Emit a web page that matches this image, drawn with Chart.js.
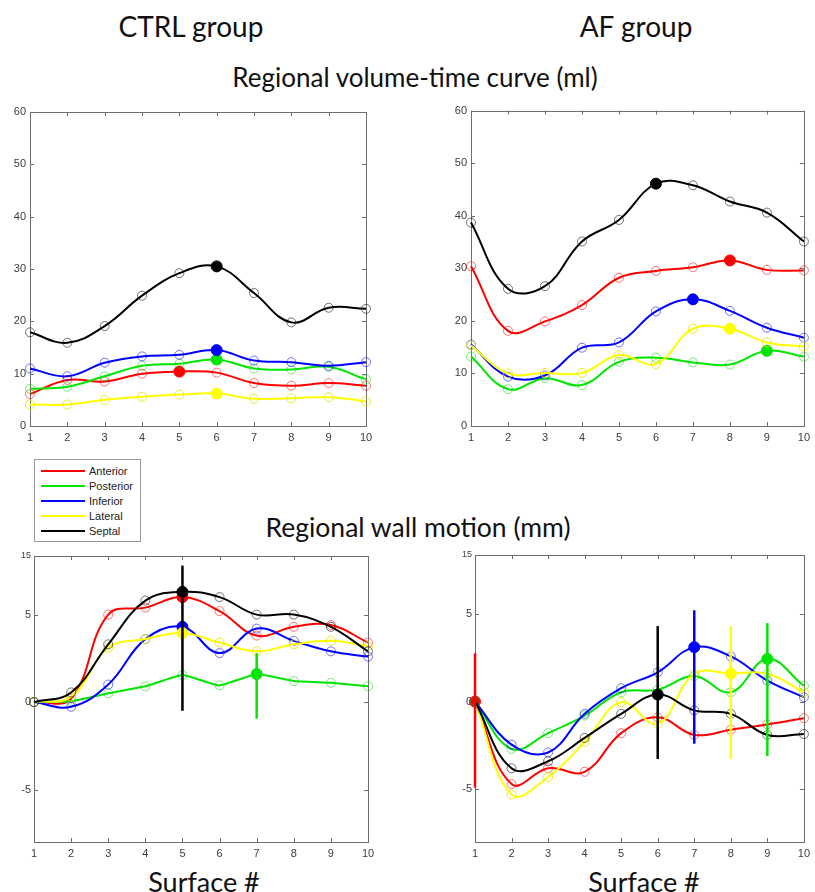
<!DOCTYPE html>
<html lang="en">
<head>
<meta charset="UTF-8">
<title>Regional volume and wall motion</title>
<script src="https://cdn.jsdelivr.net/npm/chart.js"></script>
<style>
    body {
        margin: 0;
        background: #fff;
        font-family: Lato, "Open Sans", sans-serif;
    }
    #page {
        position: relative;
        width: 815px;
        height: 892px;
        overflow: hidden;
        background: #fff;
    }
    .title {
        position: absolute;
        width: 400px;
        text-align: center;
        color: #111;
        white-space: nowrap;
        line-height: 30px;
    }
    .panel {
        position: absolute;
    }
    #legend {
        position: absolute;
        left: 34px;
        top: 459px;
        width: 105px;
        height: 81px;
        border: 1px solid #9a9a9a;
        background: #fff;
        font-family: "Liberation Sans", Arial, sans-serif;
        font-size: 11px;
        color: #222;
    }
    #legend .row {
        position: absolute;
        left: 6px;
        height: 14px;
        line-height: 14px;
    }
    #legend .swatch {
        position: absolute;
        left: 0;
        top: 6px;
        width: 44px;
        height: 2px;
    }
    #legend .lbl {
        position: absolute;
        left: 48px;
        top: 0;
    }
</style>
</head>
<body>
<div id="page">
    <div class="title" style="left:-9px; top:11px; font-size:28px;">CTRL group</div>
    <div class="title" style="left:436px; top:11px; font-size:28px;">AF group</div>
    <div class="title" style="left:215px; top:62px; font-size:26px;">Regional volume-time curve (ml)</div>
    <div class="title" style="left:218px; top:512px; font-size:26.5px;">Regional wall motion (mm)</div>

    <div class="panel" style="left:0; top:100px;"><canvas id="ctrlVol" width="400" height="350"></canvas></div>
    <div class="panel" style="left:410px; top:100px;"><canvas id="afVol" width="405" height="350"></canvas></div>
    <div class="panel" style="left:0; top:545px;"><canvas id="ctrlMot" width="400" height="320"></canvas></div>
    <div class="panel" style="left:410px; top:545px;"><canvas id="afMot" width="405" height="320"></canvas></div>

    <div id="legend"></div>

    <div class="title" style="left:4px; top:867px; font-size:27px;">Surface #</div>
    <div class="title" style="left:444px; top:867px; font-size:27px;">Surface #</div>
</div>

<script>
// x categories (surface number)
const surfaces = [1, 2, 3, 4, 5, 6, 7, 8, 9, 10];
const regions = ["Anterior", "Posterior", "Inferior", "Lateral", "Septal"];

// CTRL group - regional volume (ml)
const ctrlVolAnterior  = [6.1, 8.8, 8.5, 10.0, 10.4, 10.2, 8.2, 7.7, 8.2, 7.7];
const ctrlVolPosterior = [7.1, 7.5, 9.5, 11.5, 11.9, 12.7, 11.0, 10.8, 11.3, 8.9];
const ctrlVolInferior  = [11.0, 9.5, 12.1, 13.3, 13.6, 14.5, 12.5, 12.2, 11.5, 12.2];
const ctrlVolLateral   = [4.1, 4.1, 5.0, 5.6, 6.0, 6.2, 5.2, 5.3, 5.5, 4.7];
const ctrlVolSeptal    = [17.9, 15.9, 19.1, 24.9, 29.2, 30.5, 25.4, 19.8, 22.6, 22.4];
const ctrlVolPeak      = [5, 6, 6, 6, 6];   // surface # of the filled marker

// AF group - regional volume (ml)
const afVolAnterior  = [30.4, 18.1, 19.9, 23.0, 28.2, 29.5, 30.2, 31.5, 29.7, 29.6];
const afVolPosterior = [13.2, 7.0, 9.1, 7.8, 12.2, 13.0, 12.1, 11.7, 14.3, 13.2];
const afVolInferior  = [15.5, 9.4, 9.6, 14.9, 15.9, 21.8, 24.1, 21.9, 18.7, 16.8];
const afVolLateral   = [15.3, 10.0, 10.1, 10.1, 13.5, 11.8, 18.5, 18.5, 15.9, 15.1];
const afVolSeptal    = [38.7, 26.1, 26.6, 35.1, 39.2, 46.1, 45.8, 42.7, 40.6, 35.1];
const afVolPeak      = [8, 9, 7, 8, 6];

// CTRL group - regional wall motion (mm)
const ctrlMotAnterior  = [0, 0.2, 5.0, 5.4, 6.0, 5.2, 3.8, 4.3, 4.4, 3.4];
const ctrlMotPosterior = [0, 0.05, 0.5, 0.9, 1.55, 0.95, 1.6, 1.2, 1.1, 0.9];
const ctrlMotInferior  = [0, -0.27, 1.0, 3.6, 4.3, 2.8, 4.2, 3.5, 2.9, 2.6];
const ctrlMotLateral   = [0, 0.3, 3.1, 3.6, 3.95, 3.4, 2.9, 3.3, 3.5, 3.2];
const ctrlMotSeptal    = [0, 0.55, 3.3, 5.8, 6.3, 6.0, 5.0, 5.0, 4.3, 2.9];
const ctrlMotPeak      = [5, 7, 5, 5, 5];
const ctrlMotErrLow    = [null, -0.95, null, null, -0.5];
const ctrlMotErrHigh   = [null, 2.8, null, null, 7.8];

// AF group - regional wall motion (mm)
const afMotAnterior  = [0, -4.7, -3.8, -4.0, -1.8, -0.9, -1.9, -1.6, -1.3, -0.95];
const afMotPosterior = [0, -2.7, -1.8, -0.8, 0.53, 0.68, 1.45, 0.53, 2.43, 0.9];
const afMotInferior  = [0, -2.45, -2.9, -0.7, 0.76, 1.67, 3.1, 2.57, 1.2, 0.25];
const afMotLateral   = [0, -5.3, -4.3, -2.3, -0.04, -1.27, 1.58, 1.6, 1.58, 0.53];
const afMotSeptal    = [0, -3.8, -3.4, -2.07, -0.7, 0.4, -0.5, -0.7, -1.9, -1.85];
const afMotPeak      = [1, 9, 7, 8, 6];
const afMotErrLow    = [-4.9, -3.1, -2.4, -3.27, -3.27];
const afMotErrHigh   = [2.75, 4.47, 5.2, 4.3, 4.3];

// axis ticks
const volTicks = [0, 10, 20, 30, 40, 50, 60];
const motTicks = [-5, 0, 5, 8.35];
const motTickLabels = ["-5", "0", "5", "15"];

const colors = ["#ff0000", "#00e600", "#0000ff", "#ffff00", "#000000"];
const markerColors = ["rgba(255,0,0,0.55)", "rgba(0,220,0,0.55)", "rgba(0,0,255,0.55)", "rgba(230,230,0,0.8)", "rgba(0,0,0,0.55)"];

// legend
const legendEl = document.getElementById("legend");
regions.forEach((r, i) => {
    const row = document.createElement("div");
    row.className = "row";
    row.style.top = (4 + i * 15) + "px";
    row.innerHTML = `<span class="swatch" style="background:${colors[i]}"></span><span class="lbl">${r}</span>`;
    legendEl.appendChild(row);
});

// MATLAB-like box with inward ticks, drawn under the data
const boxPlugin = {
    id: "box",
    beforeDatasetsDraw(chart) {
        const ctx = chart.ctx;
        const a = chart.chartArea;
        const xs = chart.scales.x, ys = chart.scales.y;
        ctx.save();
        ctx.strokeStyle = "#6e6e6e";
        ctx.lineWidth = 1;
        ctx.strokeRect(Math.round(a.left) + 0.5, Math.round(a.top) + 0.5,
            Math.round(a.right - a.left), Math.round(a.bottom - a.top));
        ctx.beginPath();
        xs.ticks.forEach(t => {
            const px = Math.round(xs.getPixelForValue(t.value)) + 0.5;
            ctx.moveTo(px, a.bottom); ctx.lineTo(px, a.bottom - 4);
            ctx.moveTo(px, a.top); ctx.lineTo(px, a.top + 4);
        });
        ys.ticks.forEach(t => {
            const py = Math.round(ys.getPixelForValue(t.value)) + 0.5;
            ctx.moveTo(a.left, py); ctx.lineTo(a.left + 4, py);
            ctx.moveTo(a.right, py); ctx.lineTo(a.right - 4, py);
        });
        ctx.stroke();
        ctx.restore();
    }
};

function makeChart(id, series, peaks, yCfg, pad, errLow, errHigh, tensions) {
    const datasets = [];
    series.forEach((vals, i) => {
        datasets.push({
            label: regions[i],
            data: vals.map((v, k) => ({ x: surfaces[k], y: v })),
            borderColor: colors[i],
            borderWidth: 2,
            tension: tensions ? tensions[i] : 0.4,
            fill: false,
            clip: 6,
            pointStyle: "circle",
            pointRadius: ctx => surfaces[ctx.dataIndex] === peaks[i] ? 5.5 : 4.5,
            pointBorderWidth: 1,
            pointBorderColor: ctx => surfaces[ctx.dataIndex] === peaks[i] ? colors[i] : markerColors[i],
            pointBackgroundColor: ctx => surfaces[ctx.dataIndex] === peaks[i] ? colors[i] : "rgba(0,0,0,0)",
            order: 10 - i
        });
    });
    if (errLow) {
        series.forEach((vals, i) => {
            if (errLow[i] === null) return;
            datasets.push({
                label: regions[i] + " error",
                data: [{ x: peaks[i], y: errLow[i] }, { x: peaks[i], y: errHigh[i] }],
                borderColor: colors[i],
                borderWidth: 2.5,
                pointRadius: 0,
                tension: 0,
                clip: false,
                order: 0
            });
        });
    }
    return new Chart(document.getElementById(id), {
        type: "line",
        data: { datasets },
        options: {
            responsive: false,
            animation: false,
            layout: { padding: pad },
            plugins: { legend: { display: false }, tooltip: { enabled: false } },
            scales: {
                x: {
                    type: "linear",
                    min: 1, max: 10,
                    grid: { display: false, drawTicks: false },
                    border: { display: false },
                    afterBuildTicks: s => { s.ticks = surfaces.map(v => ({ value: v })); },
                    afterFit: s => { s.height = 20; },
                    ticks: {
                        padding: 5,
                        autoSkip: false,
                        maxRotation: 0,
                        color: "#3c3c3c",
                        font: { family: "Liberation Sans", size: 11 },
                        callback: v => String(v)
                    }
                },
                y: Object.assign({
                    type: "linear",
                    grid: { display: false, drawTicks: false },
                    border: { display: false },
                    afterFit: s => { s.width = 28; },
                    ticks: {
                        padding: 4,
                        color: "#3c3c3c",
                        font: { family: "Liberation Sans", size: 11 }
                    }
                }, yCfg)
            }
        },
        plugins: [boxPlugin]
    });
}

const volY = {
    min: 0, max: 60,
    afterBuildTicks: s => { s.ticks = volTicks.map(v => ({ value: v })); }
};
const motY = {
    min: -8, max: 8.35,
    afterBuildTicks: s => { s.ticks = motTicks.map(v => ({ value: v })); },
    ticks: {
        padding: 3,
        color: "#3c3c3c",
        font: ctx => ({ family: "Liberation Sans", size: ctx.tick && ctx.tick.value === 8.35 ? 9 : 11 }),
        callback: v => motTickLabels[motTicks.indexOf(v)]
    }
};

makeChart("ctrlVol",
    [ctrlVolAnterior, ctrlVolPosterior, ctrlVolInferior, ctrlVolLateral, ctrlVolSeptal],
    ctrlVolPeak, volY, { left: 2, right: 34, top: 12, bottom: 4 });
makeChart("afVol",
    [afVolAnterior, afVolPosterior, afVolInferior, afVolLateral, afVolSeptal],
    afVolPeak, volY, { left: 33, right: -1, top: 10, bottom: 4 });
makeChart("ctrlMot",
    [ctrlMotAnterior, ctrlMotPosterior, ctrlMotInferior, ctrlMotLateral, ctrlMotSeptal],
    ctrlMotPeak, motY, { left: 6, right: 32, top: 11, bottom: 3 }, ctrlMotErrLow, ctrlMotErrHigh,
    [0.4, 0.12, 0.4, 0.4, 0.4]);
makeChart("afMot",
    [afMotAnterior, afMotPosterior, afMotInferior, afMotLateral, afMotSeptal],
    afMotPeak, motY, { left: 37, right: -5, top: 10, bottom: 3 }, afMotErrLow, afMotErrHigh);
</script>
</body>
</html>
